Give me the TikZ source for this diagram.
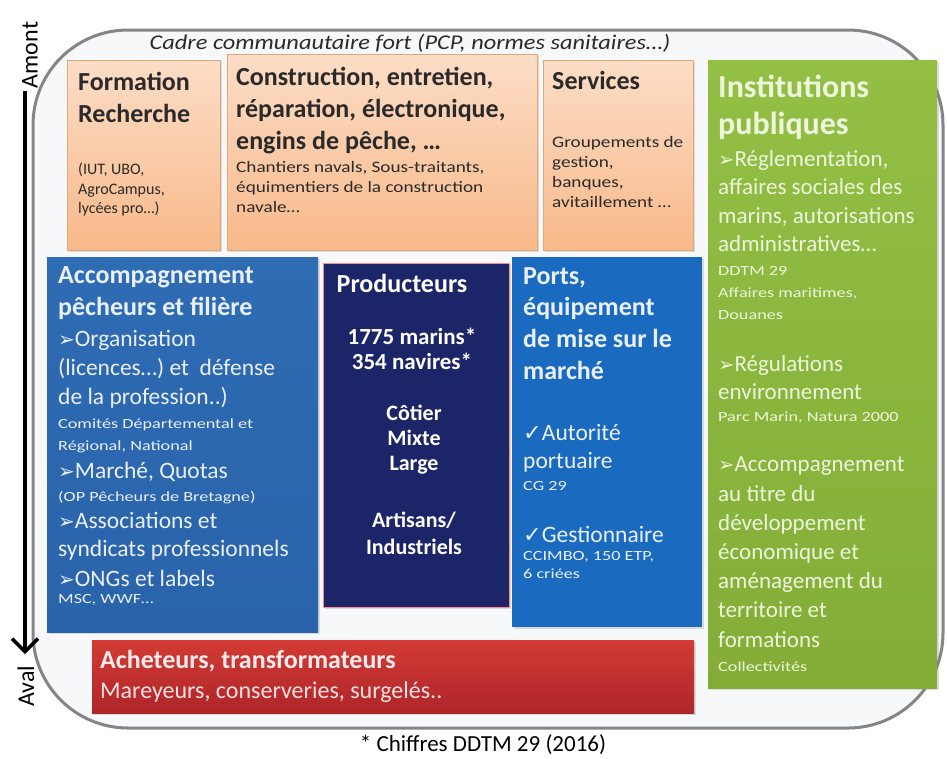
\documentclass[tikz,border=0pt]{standalone}
\usepackage{fontspec}
\usepackage{graphicx}
\setmainfont{Carlito}
\newfontfamily\symf{DejaVu Sans}
\newfontfamily\widef[FakeStretch=1.3]{Carlito}
\newfontfamily\midf[FakeStretch=1.2]{Carlito}
\newfontfamily\cadref[FakeStretch=1.16]{Carlito}
\usetikzlibrary{arrows.meta,shadows}
\newcommand\fsz[2]{\fontsize{#1}{#2}\selectfont}
\newcommand\arr{{\symf\scalebox{0.85}{➢}}}
\newcommand\chk{{\symf\scalebox{0.95}{✓}}}
\definecolor{orTop}{HTML}{FCDDC6}
\definecolor{orBot}{HTML}{F8B98A}
\definecolor{orLine}{HTML}{E3A676}
\definecolor{grnTop}{HTML}{93BF45}
\definecolor{grnBot}{HTML}{83AD37}
\definecolor{grnTxt}{HTML}{EEF6DC}
\definecolor{bluA}{HTML}{2E6CB4}
\definecolor{bluAb}{HTML}{2A63AA}
\definecolor{bluP}{HTML}{1A6ABF}
\definecolor{navy}{HTML}{1C2567}
\definecolor{redT}{HTML}{D33B35}
\definecolor{redB}{HTML}{AE2529}
\definecolor{bluTxt}{HTML}{EAF0FA}
\definecolor{frameC}{HTML}{858585}
\definecolor{frameF}{HTML}{F6F8FA}
\definecolor{ink}{HTML}{2A2A2A}
\tikzset{
  box/.style={anchor=north west, inner sep=0pt, outer sep=0pt,
    drop shadow={shadow xshift=1.5pt, shadow yshift=-1.5pt, opacity=.25}},
  orbox/.style={box, top color=orTop, bottom color=orBot, draw=orLine, line width=0.8pt},
  txt/.style={anchor=north west, inner sep=0pt, align=left},
  ctxt/.style={anchor=north, inner sep=0pt, align=center},
  head/.style={font=\fsz{26}{32}\bfseries},
  body/.style={font=\fsz{23.5}{29}},
  small/.style={font=\widef\fsz{14}{22}},
  osmall/.style={font=\fsz{16}{19.5}, text=ink},
  owide/.style={font=\midf\fsz{16}{20}, text=ink},
}
\begin{document}
\begin{tikzpicture}[x=1pt,y=-1pt]
\useasboundingbox[fill=white] (0,0) rectangle (947,758);
% outer frame
\draw[draw=frameC, fill=frameF, line width=3pt, rounded corners=95pt] (33,30) rectangle (943,728);
\node[font=\cadref\fsz{21}{24}\itshape, text=ink, inner sep=0pt] (cadre) at (410,43) {Cadre communautaire fort (PCP, normes sanitaires…)};
% arrow
\coordinate (atop) at (25,91);
\coordinate (abot) at (25,654);
\draw[line width=3.5pt, -{Straight Barb[length=13pt,width=26pt]}] (atop) -- (abot);
\node[rotate=90, font=\fsz{24}{26}, inner sep=0pt] (amont) at (30,55) {Amont};
\node[rotate=90, font=\fsz{24}{26}, inner sep=0pt] (aval) at (26,686) {Aval};
% orange boxes
\node[orbox, minimum width=153, minimum height=190] (form) at (67,60) {};
\node[orbox, minimum width=310, minimum height=196] (cons) at (227,54) {};
\node[orbox, minimum width=150, minimum height=190] (serv) at (543,60) {};
\node[txt, head, text=ink] (formT) at (78,72) {Formation\\Recherche};
\node[txt, osmall] (formS) at (78,163) {(IUT, UBO,\\AgroCampus,\\lycées pro…)};
\node[txt, head, text=ink] (consT) at (236,67) {Construction, entretien,\\réparation, électronique,\\engins de pêche, …};
\node[txt, owide] (consS) at (236,161) {Chantiers navals, Sous-traitants,\\équimentiers de la construction\\navale…};
\node[txt, head, text=ink] (servT) at (552,71) {Services};
\node[txt, owide] (servS) at (552,136) {Groupements de\\gestion,\\banques,\\avitaillement …};
% green box
\node[box, top color=grnTop, bottom color=grnBot, minimum width=229, minimum height=628] (inst) at (708,60) {};
\node[txt, font=\fsz{32}{37}\bfseries, text=grnTxt] (instT) at (718,75) {Institutions\\publiques};
\node[txt, text=grnTxt, font=\fsz{23}{28.5}] (instA) at (718,150) {\arr Réglementation,\\affaires sociales des\\marins, autorisations\\administratives…};
\node[txt, small, text=grnTxt] (instAs) at (718,266) {DDTM 29\\Affaires maritimes,\\Douanes};
\node[txt, text=grnTxt, font=\fsz{23}{28.5}] (instB) at (718,355) {\arr Régulations\\environnement};
\node[txt, small, text=grnTxt] (instBs) at (718,412) {Parc Marin, Natura 2000};
\node[txt, text=grnTxt, font=\fsz{23}{29.2}] (instC) at (718,457) {\arr Accompagnement\\au titre du\\développement\\économique et\\aménagement du\\territoire et\\formations};
\node[txt, small, text=grnTxt] (instCs) at (718,662) {Collectivités};
% blue left
\node[box, top color=bluA, bottom color=bluAb, minimum width=271, minimum height=375] (acc) at (47,257) {};
\node[txt, head, text=bluTxt] (accT) at (58,266) {Accompagnement\\pêcheurs et filière};
\node[txt, body, text=bluTxt] (accA) at (58,330) {\arr Organisation\\(licences…) et\ \ défense\\de la profession..)};
\node[txt, small, text=bluTxt] (accAs) at (58,419) {Comités Départemental et\\Régional, National};
\node[txt, body, text=bluTxt] (accB) at (58,462) {\arr Marché, Quotas};
\node[txt, small, text=bluTxt] (accBs) at (58,491) {(OP Pêcheurs de Bretagne)};
\node[txt, body, text=bluTxt, font=\fsz{23.5}{28}] (accC) at (58,512) {\arr Associations et\\syndicats professionnels};
\node[txt, body, text=bluTxt] (accD) at (58,570) {\arr ONGs et labels};
\node[txt, small, text=bluTxt] (accDs) at (58,594) {MSC, WWF…};
% producteurs
\node[box, fill=navy, draw=red!45!white, line width=0.6pt, minimum width=186, minimum height=344] (prod) at (323,263) {};
\node[ctxt, head, text=white] (prodT) at (402,274) {Producteurs};
\node[ctxt, font=\fsz{23}{24.5}\bfseries, text=white] (prodA) at (412,328) {1775 marins*\\354 navires*};
\node[ctxt, font=\fsz{22}{25}\bfseries, text=white] (prodB) at (414,405) {Côtier\\Mixte\\Large};
\node[ctxt, font=\fsz{22}{27}\bfseries, text=white] (prodC) at (414,512) {Artisans/\\Industriels};
% ports
\node[box, fill=bluP, minimum width=190, minimum height=370] (port) at (512,257) {};
\node[txt, font=\fsz{26}{31.7}\bfseries, text=bluTxt] (portT) at (523,267) {Ports,\\équipement\\de mise sur le\\marché};
\node[txt, body, text=bluTxt, font=\fsz{23.5}{28}] (portA) at (523,424) {\chk Autorité\\portuaire};
\node[txt, small, text=bluTxt] (portAs) at (523,481) {CG 29};
\node[txt, body, text=bluTxt] (portB) at (523,526) {\chk Gestionnaire};
\node[txt, small, text=bluTxt, font=\widef\fsz{14}{18}] (portBs) at (523,551) {CCIMBO, 150 ETP,\\6 criées};
% red
\node[box, top color=redT, bottom color=redB, minimum width=602, minimum height=73] (ach) at (92,640) {};
\node[txt, head, text=red!8!white] (achT) at (100,650) {Acheteurs, transformateurs};
\node[txt, font=\fsz{24}{28}, text=red!12!white] (achS) at (100,682) {Mareyeurs, conserveries, surgelés..};
% footer
\node[font=\fsz{23}{26}, inner sep=0pt] (foot) at (483,745) {* Chiffres DDTM 29 (2016)};
\end{tikzpicture}
\end{document}
